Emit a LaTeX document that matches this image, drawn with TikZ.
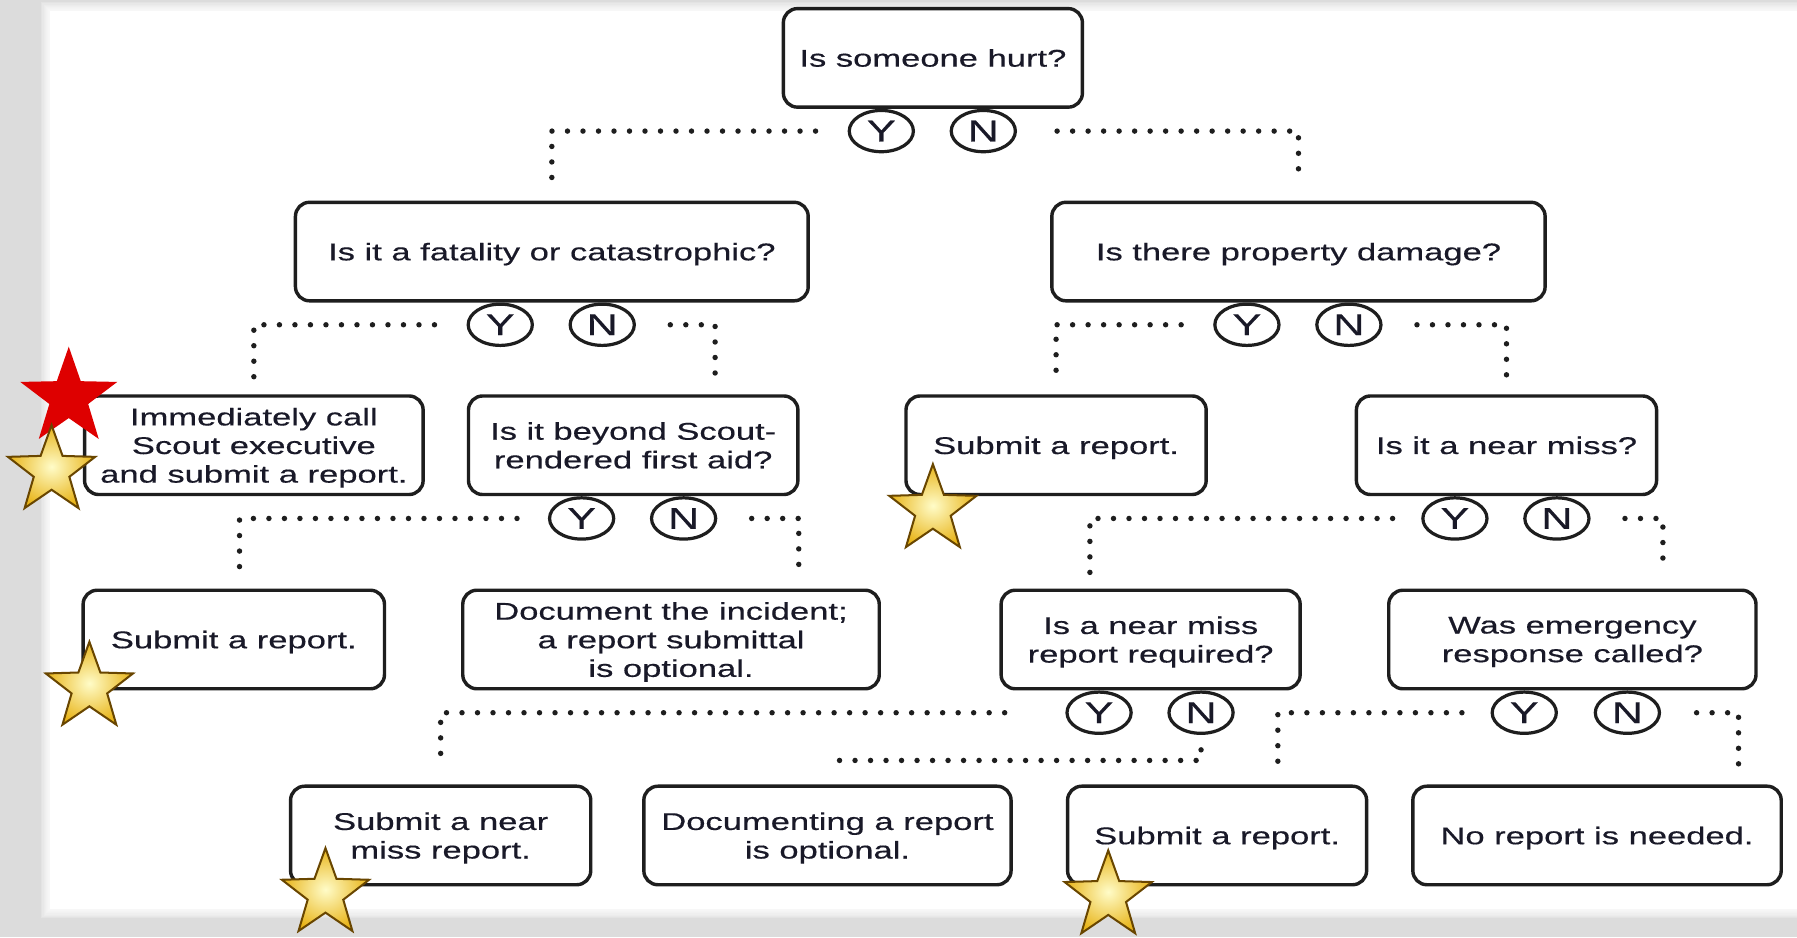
\documentclass[tikz,border=0pt]{standalone}
\usepackage{fontspec}
\setmainfont{Liberation Sans}[FakeStretch=1.43, FakeBold=0.4]
\usetikzlibrary{positioning, shapes.geometric}
\definecolor{Txtcolor}{RGB}{25,25,40}
\definecolor{Boxcolor}{RGB}{30,30,30}
\definecolor{Fondo}{RGB}{220,220,220}
\definecolor{Gold1}{RGB}{255,252,200}
\definecolor{Gold2}{RGB}{232,180,25}
\definecolor{Gold3}{RGB}{105,70,0}
\definecolor{Redstar}{RGB}{222,0,0}

\begin{document}
\begin{tikzpicture}[
  x=0.02cm, y=-0.02cm,
  qbox/.style={rectangle, rounded corners=7pt,
               draw=Boxcolor, line width=1.7pt, fill=white,
               minimum width=#1, minimum height=1.72cm,
               align=center, inner sep=2pt, text=Txtcolor, text depth=0pt,
               font=\fontsize{12}{14.2}\selectfont},
  yn/.style={ellipse, draw=Boxcolor, line width=1.6pt, fill=white,
             minimum width=1.12cm, minimum height=0.72cm, inner sep=0pt,
             text=Txtcolor, font=\fontsize{15}{16}\selectfont},
  conn/.style={draw=Boxcolor, line width=2.7pt, line cap=round,
               dash pattern=on 0pt off 7.7pt},
  gstar/.style={star, star points=5, star point ratio=2.45,
                minimum size=1.6cm, inner sep=0pt,
                draw=Gold3, line width=1pt,
                inner color=Gold1, outer color=Gold2},
  rstar/.style={star, star points=5, star point ratio=2.5,
                minimum size=1.78cm, inner sep=0pt, fill=Redstar}
]
\useasboundingbox (0,0) rectangle (1568,818);

%% -- fondo de la diapositiva --
\fill[Fondo] (0,0) rectangle (1568,818);
\foreach \i in {8,7,...,1}
  \fill[white, opacity=0.2] (44-\i,10-\i) rectangle (1568,793+\i);
\fill[white] (44,10) rectangle (1568,793);

%% -- preguntas y respuestas --
\node[qbox=5.22cm] (hurt)   at (814,50.5)    {Is someone hurt?};
\node[qbox=8.95cm] (fatal)  at (481.5,219.5) {Is it a fatality or catastrophic?};
\node[qbox=8.61cm] (damage) at (1133,219.5)  {Is there property damage?};

\node[qbox=5.91cm] (callexec) at (221.5,388.5) {Immediately call\\Scout executive\\and submit a report.};
\node[qbox=5.75cm] (firstaid) at (552.5,388.5) {Is it beyond Scout-\\rendered first aid?};
\node[qbox=5.24cm] (rep1)     at (921.5,388.5) {Submit a report.};
\node[qbox=5.24cm] (nearmiss) at (1314.5,388.5) {Is it a near miss?};

\node[qbox=5.26cm] (rep2)   at (204,558)    {Submit a report.};
\node[qbox=7.27cm] (docinc) at (585.5,558)  {Document the incident;\\a report submittal\\is optional.};
\node[qbox=5.22cm] (nmreq)  at (1004,558)   {Is a near miss\\report required?};
\node[qbox=6.41cm] (emerg)  at (1372,558)   {Was emergency\\response called?};

\node[qbox=5.24cm] (nmrep)  at (384.5,729)  {Submit a near\\miss report.};
\node[qbox=6.41cm] (docopt) at (722,729)    {Documenting a report\\is optional.};
\node[qbox=5.22cm] (rep3)   at (1062,729)   {Submit a report.};
\node[qbox=6.43cm] (norep)  at (1393.5,729) {No report is needed.};

%% -- circulos Y / N --
\node[yn, below=0pt of hurt.south, xshift=-0.9cm]      (hurtY)     {Y};
\node[yn, below=0pt of hurt.south, xshift=0.88cm]      (hurtN)     {N};
\node[yn, below=0pt of fatal.south, xshift=-0.9cm]     (fatalY)    {Y};
\node[yn, below=0pt of fatal.south, xshift=0.88cm]     (fatalN)    {N};
\node[yn, below=0pt of damage.south, xshift=-0.9cm]    (damageY)   {Y};
\node[yn, below=0pt of damage.south, xshift=0.88cm]    (damageN)   {N};
\node[yn, below=0pt of firstaid.south, xshift=-0.9cm]  (firstaidY) {Y};
\node[yn, below=0pt of firstaid.south, xshift=0.88cm]  (firstaidN) {N};
\node[yn, below=0pt of nearmiss.south, xshift=-0.9cm]  (nearmissY) {Y};
\node[yn, below=0pt of nearmiss.south, xshift=0.88cm]  (nearmissN) {N};
\node[yn, below=0pt of nmreq.south, xshift=-0.9cm]     (nmreqY)    {Y};
\node[yn, below=0pt of nmreq.south, xshift=0.88cm]     (nmreqN)    {N};
\node[yn, below=0pt of emerg.south, xshift=-0.84cm]    (emergY)    {Y};
\node[yn, below=0pt of emerg.south, xshift=0.96cm]     (emergN)    {N};

%% -- conectores punteados --
\draw[conn] ([xshift=-0.56cm]hurtY.west) -| ([yshift=0.32cm]fatal.north);
\draw[conn] ([xshift=0.7cm]hurtN.east)   -| ([yshift=0.32cm]damage.north);

\draw[conn] ([xshift=-0.56cm]fatalY.west) -| ([yshift=0.28cm]callexec.north);
\draw[conn] ([xshift=0.6cm]fatalN.east)   -| ([xshift=1.43cm,yshift=0.28cm]firstaid.north);
\draw[conn] ([xshift=-0.56cm]damageY.west) -| ([yshift=0.28cm]rep1.north);
\draw[conn] ([xshift=0.6cm]damageN.east)   -| ([yshift=0.28cm]nearmiss.north);

\draw[conn] ([xshift=-0.54cm]firstaidY.west) -| ([xshift=0.1cm,yshift=0.28cm]rep2.north);
\draw[conn] ([xshift=0.6cm]firstaidN.east)   -| ([xshift=2.23cm,yshift=0.28cm]docinc.north);
\draw[conn] ([xshift=-0.5cm]nearmissY.west)  -| ([xshift=-1.06cm,yshift=0.28cm]nmreq.north);
\draw[conn] ([xshift=0.6cm]nearmissN.east)   -| ([xshift=1.58cm,yshift=0.28cm]emerg.north);

\draw[conn] ([xshift=-1.06cm]nmreqY.west) -| ([yshift=0.34cm]nmrep.north);
\draw[conn] ([yshift=-0.26cm]nmreqN.south) |- ([yshift=0.42cm]docopt.north);
\draw[conn] ([xshift=-0.5cm]emergY.west)  -| ([xshift=1.06cm,yshift=0.34cm]rep3.north);
\draw[conn] ([xshift=0.62cm]emergN.east)  -| ([xshift=2.47cm,yshift=0.34cm]norep.north);

%% -- estrellas --
\node[rstar] (redmark) at (60,347) {};
\node[gstar] (gold1) at (45,411)  {};
\node[gstar] (gold2) at (78,600)  {};
\node[gstar] (gold3) at (814,445) {};
\node[gstar] (gold4) at (284,780) {};
\node[gstar] (gold5) at (967,782) {};

\end{tikzpicture}
\end{document}
